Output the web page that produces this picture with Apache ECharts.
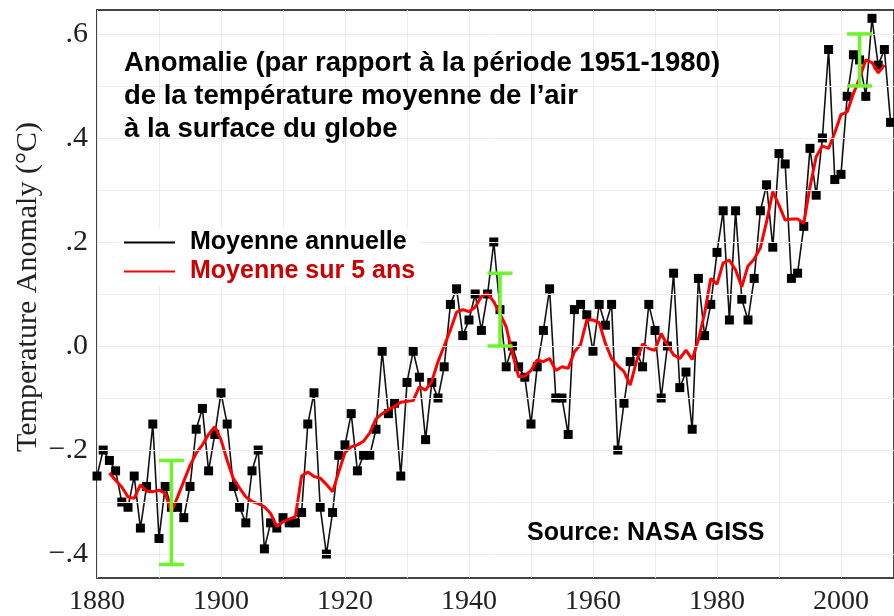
<!DOCTYPE html>
<html>
<head>
<meta charset="utf-8">
<script src="https://cdn.jsdelivr.net/npm/echarts@6/dist/echarts.min.js"></script>
<style>
  html, body { margin: 0; padding: 0; background: #fff; }
  #chart { width: 894px; height: 616px; }
</style>
</head>
<body>
<div id="chart"></div>
<script>
// moyenne annuelle, 1880 -> 2008
const annualStart = 1880;
const annual = [
  -0.25, -0.20, -0.22, -0.24, -0.30, -0.31, -0.25, -0.35, -0.27, -0.15,
  -0.37, -0.27, -0.31, -0.31, -0.33, -0.27, -0.16, -0.12, -0.24, -0.17,
  -0.09, -0.15, -0.27, -0.31, -0.34, -0.24, -0.20, -0.39, -0.34, -0.35,
  -0.33, -0.34, -0.34, -0.32, -0.15, -0.09, -0.31, -0.40, -0.32, -0.21,
  -0.19, -0.13, -0.24, -0.21, -0.21, -0.16, -0.01, -0.13, -0.11, -0.25,
  -0.07, -0.01, -0.06, -0.18, -0.07, -0.10, -0.04, 0.08, 0.11, 0.02,
  0.05, 0.10, 0.03, 0.10, 0.20, 0.07, -0.04, 0.00, -0.04, -0.06,
  -0.15, -0.04, 0.03, 0.11, -0.10, -0.10, -0.17, 0.07, 0.08, 0.06,
  -0.01, 0.08, 0.04, 0.08, -0.20, -0.11, -0.03, -0.01, -0.04, 0.08,
  0.03, -0.10, 0.00, 0.14, -0.08, -0.05, -0.16, 0.13, 0.02, 0.08,
  0.18, 0.26, 0.05, 0.26, 0.09, 0.05, 0.13, 0.26, 0.31, 0.19,
  0.37, 0.35, 0.13, 0.14, 0.23, 0.38, 0.29, 0.40, 0.57, 0.32,
  0.33, 0.48, 0.56, 0.55, 0.48, 0.63, 0.54, 0.57, 0.43
];

// moyenne sur 5 ans, 1882 -> 2007
const fiveYearStart = 1882;
const fiveYear = [
  -0.244, -0.258, -0.271, -0.290, -0.293, -0.267, -0.279, -0.280,
  -0.277, -0.283, -0.319, -0.290, -0.260, -0.230, -0.206, -0.190, -0.170, -0.155,
  -0.180, -0.220, -0.255, -0.273, -0.290, -0.299, -0.303, -0.309, -0.322, -0.347,
  -0.338, -0.333, -0.328, -0.250, -0.242, -0.251, -0.254, -0.266, -0.280, -0.242,
  -0.205, -0.194, -0.190, -0.183, -0.167, -0.140, -0.130, -0.122, -0.116, -0.108,
  -0.106, -0.105, -0.078, -0.085, -0.068, -0.030, 0.000, 0.031, 0.065, 0.070,
  0.066, 0.075, 0.095, 0.101, 0.085, 0.062, 0.037, -0.014, -0.059, -0.058,
  -0.047, -0.027, -0.030, -0.024, -0.047, -0.040, -0.043, -0.011, 0.003, 0.050,
  0.050, 0.045, 0.005, -0.024, -0.038, -0.049, -0.075, -0.030, 0.004, -0.005,
  -0.008, 0.024, 0.002, -0.017, -0.024, -0.008, -0.026, 0.012, 0.063, 0.130,
  0.119, 0.160, 0.165, 0.146, 0.114, 0.154, 0.167, 0.189, 0.239, 0.297,
  0.271, 0.242, 0.244, 0.244, 0.236, 0.306, 0.364, 0.385, 0.380, 0.410,
  0.445, 0.450, 0.485, 0.515, 0.550, 0.545, 0.525, 0.540
];

// barres d'incertitude (annee, bas, haut)
const errYears = [1892, 1945, 2003];
const errLow = [-0.42, 0.00, 0.50];
const errHigh = [-0.22, 0.14, 0.60];

const yTicks = [-0.4, -0.2, 0, 0.2, 0.4, 0.6];
const yGrid = [-0.4, -0.3, -0.2, -0.1, 0, 0.1, 0.2, 0.3, 0.4, 0.5, 0.6];

const annualData = annual.map((v, i) => [annualStart + i, v]);
const fiveData = fiveYear.map((v, i) => [fiveYearStart + i, v]);
const errData = errYears.map((y, i) => [y, errLow[i], errHigh[i]]);

const serif = '"Liberation Serif", "DejaVu Serif", serif';
const sans = '"Liberation Sans", Arial, sans-serif';
const green = '#6cf52a';

function fmtY(v) {
  let s = Math.abs(v).toFixed(1).replace(/^0/, '');
  return (v < -0.001 ? '\u2212' : '') + s;
}

const chart = echarts.init(document.getElementById('chart'));
const option = {
  animation: false,
  title: [
    {
      text: 'Anomalie (par rapport à la période 1951-1980)\nde la température moyenne de l\u2019air\nà la surface du globe',
      left: 119,
      top: 42,
      textStyle: { fontFamily: sans, fontSize: 27.5, fontWeight: 'bold', color: '#000', lineHeight: 33 }
    },
    {
      text: 'Source: NASA GISS',
      left: 522,
      top: 516,
      textStyle: { fontFamily: sans, fontSize: 25, fontWeight: 'bold', color: '#000' }
    }
  ],
  legend: {
    orient: 'vertical',
    left: 119,
    top: 228,
    padding: [2, 5, 2, 5],
    itemWidth: 51,
    itemHeight: 2,
    itemGap: 4,
    z: 10,
    backgroundColor: '#fff',
    selectedMode: false,
    textStyle: { fontFamily: sans, fontSize: 25, fontWeight: 'bold', padding: [0, 0, 0, 10] },
    data: [
      { name: 'Moyenne annuelle', icon: 'rect', itemStyle: { color: '#000' }, textStyle: { color: '#000' } },
      { name: 'Moyenne sur 5 ans', icon: 'rect', itemStyle: { color: '#ff0000' }, textStyle: { color: '#cc0000' } }
    ]
  },
  grid: {
    left: 97, right: 0, top: 10, bottom: 38,
    outerBoundsMode: 'none',
    containLabel: false,
    show: true, borderColor: '#444', borderWidth: 2
  },
  xAxis: {
    type: 'value',
    min: 1880,
    max: 2008.55,
    interval: 10,
    axisLine: { show: false },
    axisTick: { show: false },
    splitLine: { show: true, lineStyle: { color: '#ececec', width: 1 } },
    axisLabel: {
      fontFamily: serif, fontSize: 28, color: '#222', margin: 10,
      showMaxLabel: false,
      formatter: v => (v % 20 === 0 ? String(v) : '')
    }
  },
  yAxis: {
    type: 'value',
    min: -0.446,
    max: 0.646,
    name: 'Temperature Anomaly (\u00b0C)',
    nameLocation: 'middle',
    nameRotate: 90,
    nameGap: 54,
    nameMoveOverlap: false,
    nameTextStyle: { fontFamily: serif, fontSize: 30, color: '#222', padding: [0, 0, 0, 14] },
    axisLine: { show: false },
    axisTick: { show: false, customValues: yTicks },
    splitLine: { show: false },
    axisLabel: {
      customValues: yTicks,
      fontFamily: serif, fontSize: 30, color: '#222', margin: 9,
      formatter: fmtY
    }
  },
  series: [
    {
      name: 'grille',
      type: 'line',
      data: [],
      silent: true,
      z: 1,
      markLine: {
        silent: true,
        symbol: 'none',
        label: { show: false },
        lineStyle: { color: '#ececec', type: 'solid', width: 1 },
        data: yGrid.map(v => ({ yAxis: v }))
      }
    },
    {
      name: 'Moyenne annuelle',
      type: 'line',
      data: annualData,
      z: 3,
      symbol: 'rect',
      symbolSize: 9,
      showAllSymbol: true,
      lineStyle: { color: '#111', width: 1.6 },
      itemStyle: { color: '#000' }
    },
    {
      name: 'Moyenne sur 5 ans',
      type: 'line',
      data: fiveData,
      z: 4,
      symbol: 'none',
      lineStyle: { color: '#ff0000', width: 3 }
    },
    {
      name: 'Incertitude',
      type: 'custom',
      data: errData,
      z: 5,
      encode: { x: 0, y: [1, 2] },
      renderItem: function (params, api) {
        const lo = api.coord([api.value(0), api.value(1)]);
        const hi = api.coord([api.value(0), api.value(2)]);
        const w = 12.5;
        const st = { stroke: green, lineWidth: 3.5 };
        return {
          type: 'group',
          children: [
            { type: 'line', shape: { x1: lo[0], y1: lo[1], x2: hi[0], y2: hi[1] }, style: st },
            { type: 'line', shape: { x1: lo[0] - w, y1: lo[1], x2: lo[0] + w, y2: lo[1] }, style: st },
            { type: 'line', shape: { x1: hi[0] - w, y1: hi[1], x2: hi[0] + w, y2: hi[1] }, style: st }
          ]
        };
      }
    }
  ]
};
chart.setOption(option);
window.addEventListener('resize', () => chart.resize());
</script>
</body>
</html>
